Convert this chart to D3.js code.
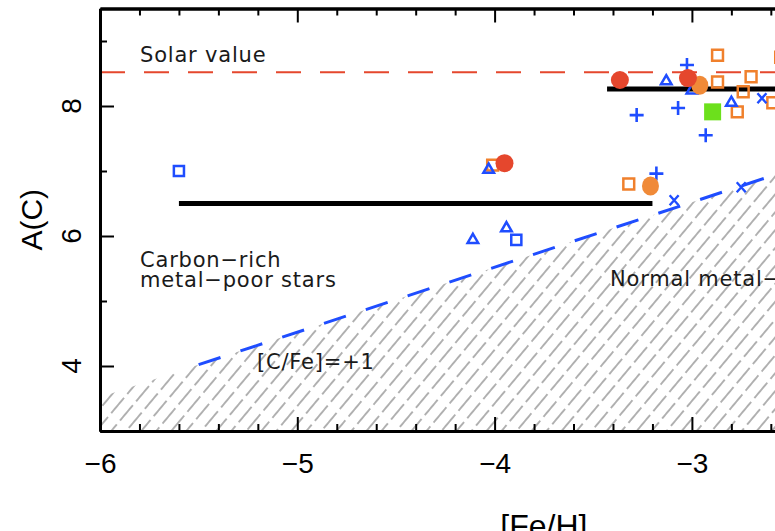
<!DOCTYPE html>
<html>
<head>
<meta charset="utf-8">
<script src="https://cdn.jsdelivr.net/npm/d3@7"></script>
<style>
  body { margin: 0; background: #fff; }
  svg { display: block; }
</style>
</head>
<body>
<svg id="chart" width="775" height="531"></svg>
<script>
// [Fe/H], A(C) pairs
const blueSquares   = [[-5.6, 7.0], [-3.89, 5.94]];
const blueTriangles = [[-4.03, 7.02], [-4.11, 5.94], [-3.94, 6.12], [-3.13, 8.38], [-3.0, 8.24], [-2.80, 8.05]];
const bluePlus      = [[-3.18, 6.96], [-3.025, 8.63], [-3.28, 7.86], [-3.07, 7.97], [-2.93, 7.55]];
const blueCross     = [[-3.09, 6.55], [-2.75, 6.75], [-2.645, 8.12]];
const orangeSquares = [[-4.01, 7.09], [-3.32, 6.8], [-2.87, 8.78], [-2.87, 8.37], [-2.70, 8.45],
                       [-2.74, 8.22], [-2.77, 7.91], [-2.59, 8.05], [-2.55, 8.75]];
const orangeCircles = [[-3.21, 6.77], [-2.96, 8.32]];
const redCircles    = [[-3.95, 7.12], [-3.365, 8.40], [-3.02, 8.43]];
const greenSquares  = [[-2.895, 7.91]];

const solarAC = 8.52;            // solar value line
const cFeOffset = solarAC + 1;   // [C/Fe] = +1  ->  A(C) = [Fe/H] + 9.52
const cFeStart = -5.5;
const meanLines = [
  {x0: -5.6, x1: -3.2, y: 6.5},
  {x0: -3.43, x1: -1.5, y: 8.26}
];

const xMajor = [-6, -5, -4, -3];
const yMajor = [4, 6, 8];

const svg = d3.select("#chart");
const x = d3.scaleLinear().domain([-6, -1.5]).range([100, 100 + 4.5 * 197.3]);
const y = d3.scaleLinear().domain([3, 9.5]).range([431, 8.5]);

const blue = "#1f4dff", orange = "#f0802c", red = "#e5472d", green = "#6ce01c";
const numFont = "Liberation Sans, Arial, sans-serif";

const defs = svg.append("defs");
defs.append("clipPath").attr("id", "plotClip")
  .append("rect")
  .attr("x", x(-6)).attr("y", y(9.5))
  .attr("width", x(-1.5) - x(-6)).attr("height", y(3) - y(9.5));

defs.append("pattern")
  .attr("id", "hatch")
  .attr("patternUnits", "userSpaceOnUse")
  .attr("width", 11.5).attr("height", 25)
  .attr("patternTransform", "rotate(40)")
  .append("line")
  .attr("x1", 5.75).attr("x2", 5.75).attr("y1", 0).attr("y2", 20)
  .attr("stroke", "#8a8a8a").attr("stroke-width", 1.3);

const plot = svg.append("g").attr("clip-path", "url(#plotClip)");

// hatched region below [C/Fe]=+1
const area = d3.area()
  .x(d => x(d))
  .y0(y(3))
  .y1(d => y(d + cFeOffset));
plot.append("path")
  .datum([-6, -1.5])
  .attr("d", area)
  .attr("fill", "url(#hatch)");

// solar value line
plot.append("line")
  .attr("x1", x(-6)).attr("x2", x(-1.5))
  .attr("y1", y(solarAC)).attr("y2", y(solarAC))
  .attr("stroke", red).attr("stroke-width", 2)
  .attr("stroke-dasharray", "25,19");

// [C/Fe]=+1 line
plot.append("line")
  .attr("x1", x(cFeStart)).attr("x2", x(-1.5))
  .attr("y1", y(cFeStart + cFeOffset)).attr("y2", y(-1.5 + cFeOffset))
  .attr("stroke", blue).attr("stroke-width", 3)
  .attr("stroke-dasharray", "23,21");

// black mean lines
plot.selectAll(".mean")
  .data(meanLines)
  .join("line")
  .attr("class", "mean")
  .attr("x1", d => x(d.x0)).attr("x2", d => x(d.x1))
  .attr("y1", d => y(d.y)).attr("y2", d => y(d.y))
  .attr("stroke", "#000").attr("stroke-width", 5);

const pos = d => `translate(${x(d[0])},${y(d[1])})`;

function openSymbol(data, type, size, color) {
  plot.append("g").selectAll("path")
    .data(data)
    .join("path")
    .attr("transform", pos)
    .attr("d", d3.symbol().type(type).size(size))
    .attr("fill", "none")
    .attr("stroke", color)
    .attr("stroke-width", 2.5);
}

openSymbol(orangeSquares, d3.symbolSquare2, 150, orange);
openSymbol(blueSquares, d3.symbolSquare2, 130, blue);
openSymbol(blueTriangles, d3.symbolTriangle2, 80, blue);

plot.append("g").selectAll("path")
  .data(bluePlus)
  .join("path")
  .attr("transform", pos)
  .attr("d", "M-7,0H7M0,-7V7")
  .attr("stroke", blue).attr("stroke-width", 2.6);

plot.append("g").selectAll("path")
  .data(blueCross)
  .join("path")
  .attr("transform", pos)
  .attr("d", "M-4.5,-5L4.5,5M-4.5,5L4.5,-5")
  .attr("stroke", blue).attr("stroke-width", 2.4);

plot.append("g").selectAll("ellipse")
  .data(orangeCircles)
  .join("ellipse")
  .attr("cx", d => x(d[0])).attr("cy", d => y(d[1]))
  .attr("rx", 8.5).attr("ry", 9.5)
  .attr("fill", "#f08a38");

plot.append("g").selectAll("circle")
  .data(redCircles)
  .join("circle")
  .attr("cx", d => x(d[0])).attr("cy", d => y(d[1]))
  .attr("r", 9)
  .attr("fill", red);

plot.append("g").selectAll("rect")
  .data(greenSquares)
  .join("rect")
  .attr("x", d => x(d[0]) - 8.5).attr("y", d => y(d[1]) - 8.5)
  .attr("width", 17).attr("height", 17)
  .attr("fill", green);

// axes: ticks point inward, minor every 0.2 in x and 1 in y
const xMinor = d3.range(-6, -1.5, 0.2).map(v => +v.toFixed(1)).filter(v => !xMajor.includes(v));
const yMinor = d3.range(3, 10, 1).filter(v => !yMajor.includes(v));

function styleAxis(g) {
  g.select(".domain").attr("stroke-width", 3);
  g.selectAll(".tick line").attr("stroke-width", 2);
}

svg.append("g").attr("transform", `translate(0,${y(3)})`)
  .call(d3.axisBottom(x).tickValues(xMinor).tickSizeInner(-7).tickSizeOuter(0).tickFormat(""))
  .call(styleAxis);
svg.append("g").attr("transform", `translate(0,${y(3)})`)
  .call(d3.axisBottom(x).tickValues(xMajor).tickSizeInner(-14).tickSizeOuter(0)
    .tickPadding(22).tickFormat(d3.format("d")))
  .call(styleAxis)
  .call(g => g.selectAll("text")
    .attr("font-family", numFont)
    .attr("font-size", 28).attr("fill", "#000"));

svg.append("g").attr("transform", `translate(0,${y(9.5)})`)
  .call(d3.axisTop(x).tickValues(xMinor).tickSizeInner(-7).tickSizeOuter(0).tickFormat(""))
  .call(styleAxis);
svg.append("g").attr("transform", `translate(0,${y(9.5)})`)
  .call(d3.axisTop(x).tickValues(xMajor).tickSizeInner(-14).tickSizeOuter(0).tickFormat(""))
  .call(styleAxis);

svg.append("g").attr("transform", `translate(${x(-6)},0)`)
  .call(d3.axisLeft(y).tickValues(yMinor).tickSizeInner(-7).tickSizeOuter(0).tickFormat(""))
  .call(styleAxis);
svg.append("g").attr("transform", `translate(${x(-6)},0)`)
  .call(d3.axisLeft(y).tickValues(yMajor).tickSizeInner(-14).tickSizeOuter(0).tickFormat(""))
  .call(styleAxis);

// rotated y tick labels
svg.append("g").selectAll("text")
  .data(yMajor)
  .join("text")
  .attr("transform", d => `translate(81,${y(d)}) rotate(-90)`)
  .attr("text-anchor", "middle")
  .attr("font-family", numFont)
  .attr("font-size", 28)
  .text(d => d);

// axis titles
svg.append("text")
  .attr("transform", `translate(42,${(y(3) + y(9.5)) / 2}) rotate(-90)`)
  .attr("text-anchor", "middle")
  .attr("font-family", numFont)
  .attr("font-size", 30)
  .text("A(C)");

svg.append("text")
  .attr("x", (x(-6) + x(-1.5)) / 2).attr("y", 537)
  .attr("text-anchor", "middle")
  .attr("font-family", numFont)
  .attr("font-size", 32)
  .text("[Fe/H]");

// annotations
const notes = [
  {t: "Solar value", x: 140, y: 62},
  {t: "Carbon\u2212rich", x: 140, y: 267},
  {t: "metal\u2212poor stars", x: 140, y: 287},
  {t: "Normal metal\u2212poor stars", x: 610, y: 286},
  {t: "[C/Fe]=+1", x: 257, y: 369}
];
svg.append("g").selectAll("text")
  .data(notes)
  .join("text")
  .attr("x", d => d.x).attr("y", d => d.y)
  .attr("font-family", "DejaVu Sans, sans-serif")
  .attr("font-size", 21)
  .attr("letter-spacing", 0.8)
  .attr("fill", "#1a1a1a")
  .text(d => d.t);
</script>
</body>
</html>
